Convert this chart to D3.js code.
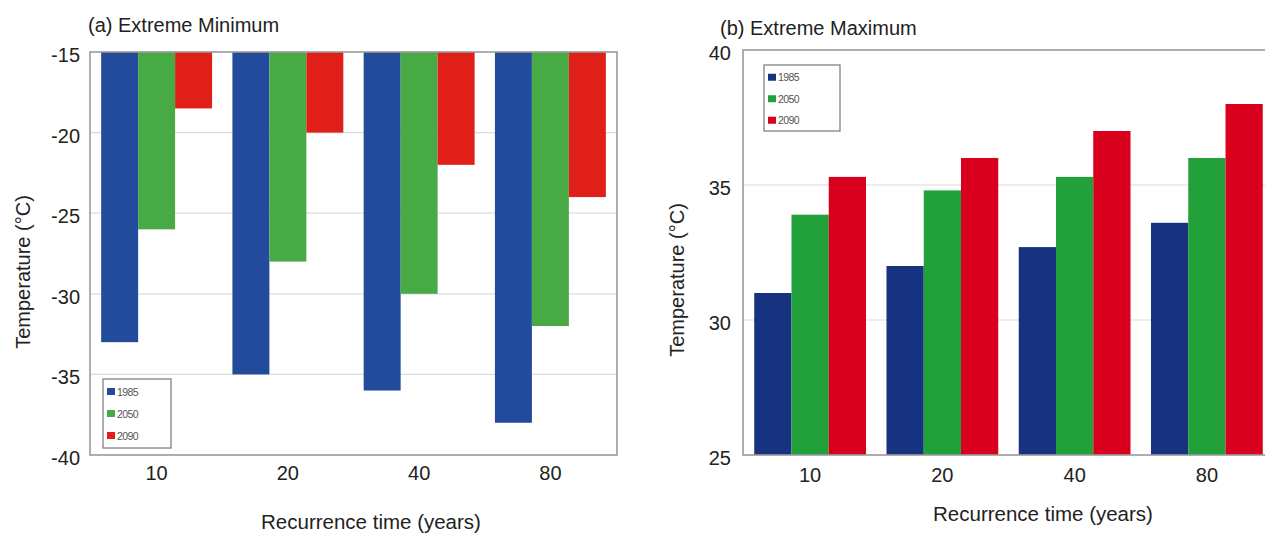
<!DOCTYPE html>
<html>
<head>
<meta charset="utf-8">
<script src="https://cdn.jsdelivr.net/npm/d3@7"></script>
<style>
  body { margin: 0; background: #fff; }
  svg { display: block; font-family: "Liberation Sans", Arial, sans-serif; }
</style>
</head>
<body>
<svg id="chart" width="1265" height="536"></svg>
<script>
// Data
var periods = ["10", "20", "40", "80"];
var scenarios = ["1985", "2050", "2090"];

// (a) extreme minimum, deg C
var min1985 = [-33, -35, -36, -38];
var min2050 = [-26, -28, -30, -32];
var min2090 = [-18.5, -20, -22, -24];

// (b) extreme maximum, deg C
var max1985 = [31, 32, 32.7, 33.6];
var max2050 = [33.9, 34.8, 35.3, 36];
var max2090 = [35.3, 36, 37, 38];

var minTicks = [-15, -20, -25, -30, -35, -40];
var maxTicks = [25, 30, 35, 40];

var svg = d3.select("#chart");

function drawPanel(cfg) {
  var g = svg.append("g");

  var x0 = d3.scaleBand().domain(periods)
      .range([cfg.left, cfg.right]).paddingInner(0.155).paddingOuter(0.085);
  var x1 = d3.scaleBand().domain(scenarios).range([0, x0.bandwidth()]);
  var y = d3.scaleLinear().domain(cfg.domain).range([cfg.bottom, cfg.top]);

  // gridlines
  g.selectAll(".grid").data(cfg.ticks.slice(1, -1)).enter().append("line")
      .attr("x1", cfg.left).attr("x2", cfg.right)
      .attr("y1", function(d) { return y(d); })
      .attr("y2", function(d) { return y(d); })
      .style("stroke", "#dcdcdc").style("stroke-width", 1.2);

  // bars
  var series = cfg.series;
  var grp = g.selectAll(".grp").data(periods).enter().append("g")
      .attr("transform", function(d) { return "translate(" + x0(d) + ",0)"; });
  grp.selectAll("rect").data(function(d, i) {
        return scenarios.map(function(s, j) { return {s: s, v: series[j][i]}; });
      }).enter().append("rect")
      .attr("x", function(d) { return x1(d.s); })
      .attr("width", x1.bandwidth())
      .attr("y", function(d) { return cfg.hanging ? y(cfg.domain[1]) : y(d.v); })
      .attr("height", function(d) {
        return cfg.hanging ? y(d.v) - y(cfg.domain[1]) : y(cfg.domain[0]) - y(d.v);
      })
      .style("fill", function(d) { return cfg.colors[scenarios.indexOf(d.s)]; });

  // frame
  g.append("rect")
      .attr("x", cfg.left).attr("y", cfg.top)
      .attr("width", cfg.right - cfg.left).attr("height", cfg.bottom - cfg.top)
      .style("fill", "none").style("stroke", "#9a9a9a").style("stroke-width", 1.6);

  // y axis
  var yAxis = d3.axisLeft(y).tickValues(cfg.ticks).tickSize(0).tickPadding(cfg.yPad)
      .tickFormat(function(d) { return String(d); });
  var ya = g.append("g").attr("transform", "translate(" + cfg.left + ",3)").call(yAxis);
  ya.select(".domain").remove();
  ya.selectAll("text").style("font-size", "20px").style("fill", "#222")
      .style("font-family", "Liberation Sans, Arial, sans-serif");

  // x axis labels
  var xAxis = d3.axisBottom(x0).tickSize(0).tickPadding(cfg.xPad);
  var xa = g.append("g").attr("transform", "translate(0," + cfg.bottom + ")").call(xAxis);
  xa.select(".domain").remove();
  xa.selectAll("text").style("font-size", "20px").style("fill", "#222")
      .style("font-family", "Liberation Sans, Arial, sans-serif");

  // titles
  g.append("text").attr("x", cfg.titleX).attr("y", cfg.titleY)
      .style("font-size", "20px").style("fill", "#222").text(cfg.title);
  g.append("text").attr("x", cfg.xTitleX).attr("y", cfg.xTitleY)
      .attr("text-anchor", "middle").style("font-size", "20.5px").style("fill", "#222")
      .text("Recurrence time (years)");
  g.append("text")
      .attr("transform", "translate(" + cfg.yTitleX + "," + cfg.yTitleY + ") rotate(-90)")
      .attr("text-anchor", "middle").style("font-size", "20px").style("fill", "#222")
      .text("Temperature (°C)");

  // legend
  var lg = g.append("g").attr("transform", "translate(" + cfg.legX + "," + cfg.legY + ")");
  lg.append("rect").attr("width", cfg.legW).attr("height", cfg.legH)
      .style("fill", "#fff").style("stroke", "#777").style("stroke-width", 1.2);
  var item = lg.selectAll(".item").data(scenarios).enter().append("g")
      .attr("transform", function(d, i) { return "translate(4," + (cfg.legStep * (i + 0.5) + 2) + ")"; });
  item.append("rect").attr("y", -4).attr("width", 8).attr("height", 7)
      .style("fill", function(d, i) { return cfg.colors[i]; });
  item.append("text").attr("x", 10).attr("y", 3.5)
      .style("font-size", "10.5px").style("fill", "#555").style("letter-spacing", "-0.6px")
      .text(function(d) { return d; });
}

drawPanel({
  left: 90, right: 617, top: 52, bottom: 455,
  domain: [-40, -15], ticks: minTicks, hanging: true,
  series: [min1985, min2050, min2090],
  colors: ["#234b9b", "#48aa45", "#df1f18"],
  yPad: 10, xPad: 11,
  title: "(a) Extreme Minimum", titleX: 88, titleY: 32,
  xTitleX: 371, xTitleY: 529, yTitleX: 30, yTitleY: 272,
  legX: 103, legY: 379, legW: 68, legH: 69, legStep: 22
});

drawPanel({
  left: 743, right: 1274, top: 50, bottom: 455,
  domain: [25, 40], ticks: maxTicks, hanging: false,
  series: [max1985, max2050, max2090],
  colors: ["#17337f", "#22a03a", "#d8001c"],
  yPad: 12, xPad: 13,
  title: "(b) Extreme Maximum", titleX: 720, titleY: 35,
  xTitleX: 1043, xTitleY: 521, yTitleX: 684, yTitleY: 280,
  legX: 764, legY: 65, legW: 76, legH: 66, legStep: 21.5
});
</script>
</body>
</html>
